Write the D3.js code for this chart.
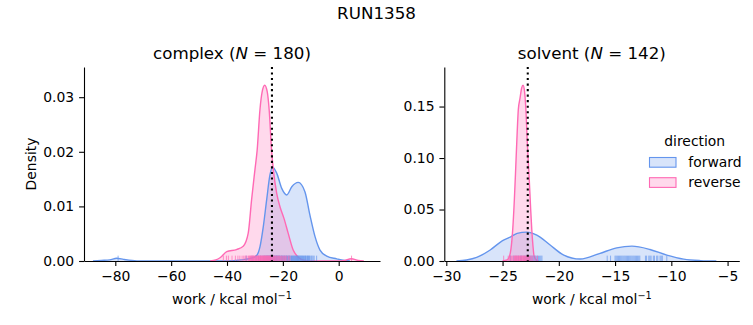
<!DOCTYPE html>
<html>
<head>
<meta charset="utf-8">
<script src="https://cdn.jsdelivr.net/npm/d3@7"></script>
<style>
  body { margin: 0; background: #fff; }
  svg { display: block; }
  text { font-family: "DejaVu Sans", sans-serif; fill: #000; }
</style>
</head>
<body>
<svg id="fig" width="753" height="325"></svg>
<script>
// ---- data: work distributions (kcal/mol) ----
const runName = "RUN1358";
const phases = ["complex", "solvent"];
const counts = [180, 142];
const directions = ["forward", "reverse"];
const colors = ["#6495ED", "#FF69B4"];

// KDE curves as [work, density]
const complexForward = [
  [-88, 0], [-85, 0.0001], [-82, 0.0002], [-79.5, 0.0005], [-77, 0.0003], [-74, 0.0001], [-71, 0],
  [-40, 0], [-35, 0.0002], [-31.5, 0.0005], [-29.4, 0.0010], [-28.2, 0.0026], [-27.0, 0.0063],
  [-25.8, 0.0112], [-24.6, 0.0158], [-23.7, 0.0172], [-22.2, 0.0161], [-20.4, 0.0133],
  [-18.6, 0.0121], [-16.8, 0.0136], [-14.5, 0.0144], [-12.1, 0.0127], [-10.3, 0.0084],
  [-8.5, 0.0045], [-6.7, 0.0020], [-4.3, 0.0009], [-0.7, 0.0004], [2, 0.0001], [4, 0]
];
const complexReverse = [
  [-46, 0], [-44, 0.0002], [-42.5, 0.0006], [-40.1, 0.0017], [-36.6, 0.0021], [-34.2, 0.0027],
  [-32.4, 0.0051], [-31.2, 0.0112], [-30.0, 0.0167], [-29.2, 0.0203], [-28.2, 0.0277],
  [-27.4, 0.0310], [-26.5, 0.0322], [-25.6, 0.0310], [-24.9, 0.0277], [-24.0, 0.0200],
  [-23.4, 0.0167], [-22.2, 0.0124], [-21.0, 0.0099], [-19.6, 0.0078], [-18.1, 0.0051],
  [-16.3, 0.0020], [-14.5, 0.0007], [-12, 0.0001], [-9, 0], [0, 0], [2, 0.0001],
  [4.5, 0.0004], [7, 0.0001], [9, 0]
];
const solventForward = [
  [-29.1, 0], [-28.2, 0.0010], [-27.3, 0.0035], [-26.1, 0.0107], [-25.0, 0.0198],
  [-24.27, 0.0235], [-23.7, 0.0268], [-22.85, 0.0280], [-21.95, 0.0252], [-20.8, 0.0158],
  [-19.6, 0.0060], [-18.1, 0.0019], [-16.4, 0.0072], [-14.85, 0.0128], [-13.5, 0.0144],
  [-11.9, 0.0112], [-10.4, 0.0057], [-8.9, 0.0018], [-7.4, 0.0004], [-6.0, 0]
];
const solventReverse = [
  [-25.0, 0], [-24.6, 0.001], [-24.4, 0.004], [-24.25, 0.012], [-24.1, 0.030], [-23.95, 0.060],
  [-23.85, 0.085], [-23.7, 0.125], [-23.6, 0.147], [-23.45, 0.158], [-23.3, 0.168],
  [-23.18, 0.1707], [-23.05, 0.165], [-22.94, 0.150], [-22.8, 0.115], [-22.64, 0.082],
  [-22.5, 0.050], [-22.4, 0.030], [-22.3, 0.015], [-22.2, 0.005], [-22.0, 0.001], [-21.8, 0]
];

// individual work values shown as rug ticks
const complexForwardRug = [
  -79.0, -33.1, -31.0, -29.6, -28.7, -28.0, -27.4, -26.9, -26.5, -26.3, -26.0, -25.8, -25.6,
  -25.4, -25.2, -25.0, -24.8, -24.6, -24.4, -24.2, -24.0, -23.9, -23.7, -23.5, -23.4, -23.2,
  -23.0, -22.9, -22.7, -22.5, -22.3, -22.2, -22.0, -21.8, -21.6, -21.4, -21.2, -21.0, -20.7,
  -20.5, -20.3, -20.1, -19.8, -19.6, -19.4, -19.2, -18.9, -18.7, -18.5, -18.3, -18.0, -17.8,
  -17.6, -17.4, -17.1, -16.9, -16.7, -16.5, -16.3, -16.1, -15.9, -15.7, -15.5, -15.3, -15.1,
  -14.9, -14.7, -14.6, -14.4, -14.2, -14.0, -13.8, -13.6, -13.4, -13.2, -13.0, -12.8, -12.6,
  -12.3, -12.1, -11.9, -11.7, -11.4, -11.2, -11.0, -10.8, -10.5, -10.3, -9.9, -9.6, -9.2,
  -8.8, -7.9
];
const complexReverseRug = [
  -41.3, -40.2, -39.5, -38.2, -37.0, -36.1, -35.4, -34.6, -34.0, -33.5, -33.2, -32.8, -32.3,
  -32.0, -31.8, -31.6, -31.4, -31.2, -31.0, -30.8, -30.6, -30.5, -30.3, -30.1, -29.9, -29.7,
  -29.5, -29.3, -29.1, -28.9, -28.8, -28.6, -28.4, -28.3, -28.1, -28.0, -27.8, -27.7, -27.5,
  -27.4, -27.2, -27.1, -26.9, -26.8, -26.6, -26.5, -26.4, -26.3, -26.1, -26.0, -25.8, -25.7,
  -25.5, -25.4, -25.2, -25.1, -24.9, -24.8, -24.6, -24.5, -24.3, -24.2, -24.0, -23.8, -23.6,
  -23.4, -23.2, -23.0, -22.7, -22.5, -22.2, -22.0, -21.7, -21.5, -21.2, -20.9, -20.5, -20.2,
  -19.8, -19.4, -19.0, -18.6, -18.0, -17.5, 4.6
];
const solventForwardRug = [
  -24.3, -24.0, -23.8, -23.6, -23.4, -23.3, -23.1, -23.0, -22.9, -22.8, -22.7, -22.6, -22.5,
  -22.4, -22.3, -22.2, -22.1, -22.0, -21.9, -21.8, -21.7, -21.6, -21.5,
  -15.7, -15.4, -15.0, -14.9, -14.8, -14.7, -14.6, -14.5, -14.4, -14.3, -14.2, -14.1, -14.0,
  -13.9, -13.8, -13.7, -13.6, -13.5, -13.4, -13.3, -13.2, -13.1, -13.0, -12.9, -12.8,
  -12.3, -12.2, -12.0, -11.9, -11.8, -11.6, -11.5, -11.3, -11.2, -11.0, -10.9, -10.8, -10.4
];
const solventReverseRug = [
  -24.9, -24.5, -24.4, -24.3, -24.2, -24.1, -24.0, -23.95, -23.9, -23.85, -23.8, -23.75,
  -23.7, -23.65, -23.6, -23.55, -23.5, -23.45, -23.4, -23.35, -23.3, -23.25, -23.2, -23.15,
  -23.1, -23.05, -23.0, -22.95, -22.9, -22.85, -22.8, -22.75, -22.7, -22.65, -22.6, -22.5,
  -22.4, -22.3, -22.1, -21.9
];

// free-energy estimate per phase (dotted line)
const estimates = [-23.9, -22.76];

// axis ticks
const complexXTicks = [-80, -60, -40, -20, 0];
const complexYTicks = [0, 0.01, 0.02, 0.03];
const solventXTicks = [-30, -25, -20, -15, -10, -5];
const solventYTicks = [0, 0.05, 0.10, 0.15];

// ---- layout ----
const svg = d3.select("#fig");
const axTop = 67, axBottom = 261;
const panels = [
  { x0: 84, x1: 380, xDomain: [-91.21, 14.79], yDomain: [0, 0.03553],
    curves: [complexForward, complexReverse], rugs: [complexForwardRug, complexReverseRug],
    xTicks: complexXTicks, yTicks: complexYTicks, ylabel: "Density" },
  { x0: 444.3, x1: 739.3, xDomain: [-30.178, -3.958], yDomain: [0, 0.1884],
    curves: [solventForward, solventReverse], rugs: [solventForwardRug, solventReverseRug],
    xTicks: solventXTicks, yTicks: solventYTicks, ylabel: null }
];

const fmtMinus = s => s.replace("-", "\u2212");
const TICK = 4.9, PAD = 4.9, FS = 13.9;

svg.append("text")
  .attr("x", 376.5).attr("y", 19)
  .attr("text-anchor", "middle")
  .style("font-size", "16.7px")
  .text(runName);

panels.forEach((p, i) => {
  const x = d3.scaleLinear().domain(p.xDomain).range([p.x0, p.x1]);
  const y = d3.scaleLinear().domain(p.yDomain).range([axBottom, axTop]);
  const g = svg.append("g");

  const clipId = "clip" + i;
  svg.append("clipPath").attr("id", clipId)
    .append("rect").attr("x", p.x0).attr("y", axTop)
    .attr("width", p.x1 - p.x0).attr("height", axBottom - axTop);

  const plot = g.append("g").attr("clip-path", `url(#${clipId})`);

  const area = d3.area().x(d => x(d[0])).y0(y(0)).y1(d => y(d[1])).curve(d3.curveMonotoneX);
  const line = d3.line().x(d => x(d[0])).y(d => y(d[1])).curve(d3.curveMonotoneX);

  p.curves.forEach((c, k) => {
    plot.append("path").attr("d", area(c))
      .attr("fill", colors[k]).attr("fill-opacity", 0.25).attr("stroke", "none");
  });
  p.curves.forEach((c, k) => {
    plot.append("path").attr("d", line(c))
      .attr("fill", "none").attr("stroke", colors[k]).attr("stroke-width", 1.4);
  });

  // rug ticks
  const rugH = 0.025 * (axBottom - axTop) + 0.5;
  p.rugs.forEach((r, k) => {
    plot.append("g").selectAll("line").data(r).join("line")
      .attr("x1", d => x(d)).attr("x2", d => x(d))
      .attr("y1", axBottom).attr("y2", axBottom - rugH)
      .attr("stroke", colors[k]).attr("stroke-opacity", 0.7).attr("stroke-width", 1);
  });

  // estimate line
  g.append("line")
    .attr("x1", x(estimates[i])).attr("x2", x(estimates[i]))
    .attr("y1", axTop).attr("y2", axBottom)
    .attr("stroke", "#000").attr("stroke-width", 2.08)
    .attr("stroke-dasharray", "2.08,3.44");

  // axes
  const xAxis = d3.axisBottom(x).tickValues(p.xTicks).tickSize(TICK).tickSizeOuter(0)
    .tickPadding(PAD).tickFormat(d => fmtMinus(d3.format("d")(d)));
  const yAxis = d3.axisLeft(y).tickValues(p.yTicks).tickSize(TICK).tickSizeOuter(0)
    .tickPadding(PAD).tickFormat(d3.format(".2f"));

  const gx = g.append("g").attr("transform", `translate(0,${axBottom})`).call(xAxis);
  const gy = g.append("g").attr("transform", `translate(${p.x0},0)`).call(yAxis);
  [gx, gy].forEach(ax => {
    ax.select(".domain").attr("stroke", "#000").attr("stroke-width", 1.1);
    ax.selectAll(".tick line").attr("stroke", "#000").attr("stroke-width", 1.1);
    ax.selectAll(".tick text").style("font-size", FS + "px")
      .style("font-family", '"DejaVu Sans", sans-serif').attr("fill", "#000");
  });

  // panel title with italic N
  const cx = (p.x0 + p.x1) / 2;
  const t = g.append("text").attr("x", cx).attr("y", 59)
    .attr("text-anchor", "middle").style("font-size", "16.7px");
  t.append("tspan").text(phases[i] + " (");
  t.append("tspan").style("font-style", "italic").text("N");
  t.append("tspan").text(" = " + counts[i] + ")");

  // x label with superscript
  const xl = g.append("text").attr("x", cx).attr("y", 304)
    .attr("text-anchor", "middle").style("font-size", FS + "px");
  xl.append("tspan").text("work / kcal mol");
  xl.append("tspan").attr("dy", -5).style("font-size", "9.7px").text("\u22121");

  if (p.ylabel) {
    g.append("text")
      .attr("transform", `translate(36,${(axTop + axBottom) / 2}) rotate(-90)`)
      .attr("text-anchor", "middle").style("font-size", FS + "px")
      .text(p.ylabel);
  }
});

// legend
const leg = svg.append("g");
leg.append("text").attr("x", 694.7).attr("y", 146)
  .attr("text-anchor", "middle").style("font-size", FS + "px").text("direction");
directions.forEach((d, k) => {
  const yy = 157.5 + k * 20.2;
  leg.append("rect").attr("x", 649.5).attr("y", yy).attr("width", 26.5).attr("height", 9.7)
    .attr("fill", colors[k]).attr("fill-opacity", 0.25)
    .attr("stroke", colors[k]).attr("stroke-width", 1.1);
  leg.append("text").attr("x", 688.3).attr("y", yy + 9).style("font-size", FS + "px").text(d);
});
</script>
</body>
</html>
